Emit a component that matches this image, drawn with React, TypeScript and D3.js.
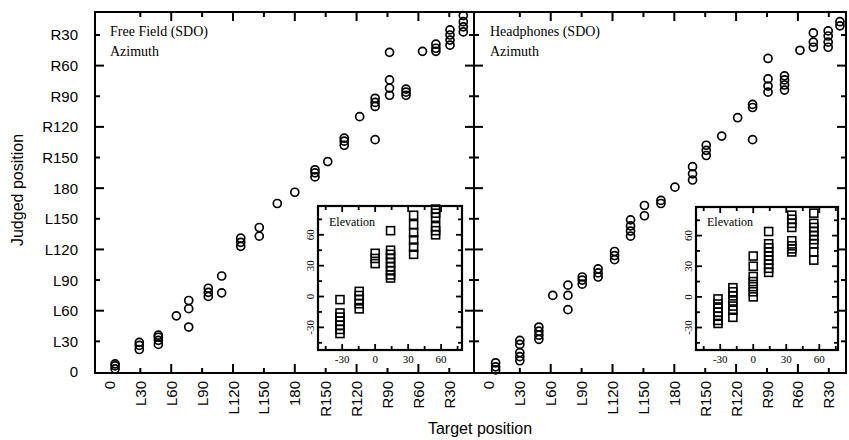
import React from 'react';
import * as d3 from 'd3';

// ---------- tick values / labels ----------
const azTickValues = [0, 30, 60, 90, 120, 150, 180, 210, 240, 270, 300, 330];
const azTickLabels = ['0', 'L30', 'L60', 'L90', 'L120', 'L150', '180', 'R150', 'R120', 'R90', 'R60', 'R30'];
const elTickValues = [-30, 0, 30, 60];
const elTickMinor = [-45, -30, -15, 0, 15, 30, 45, 60, 75];

// ---------- Free field azimuth ----------
const ffAzTargets = [5.5, 29, 47.5, 65, 77, 96, 109, 127.5, 145.5, 163, 180, 199.6, 212, 228, 243, 258, 272, 288, 304, 317, 330.7, 343.6];
const ffAzJudged = [
  [3, 6, 8], [22, 26, 29], [27, 31, 34, 36], [55], [44, 62, 70], [74, 78, 82], [77.5, 94],
  [123, 127, 131], [133, 141.5], [165], [176], [191, 195, 198], [206], [222, 226, 229], [250],
  [227.5, 260, 264, 268], [271, 278, 286, 313], [271, 274, 277], [314], [314, 317, 321],
  [320, 325, 330, 335], [333, 338, 343, 349],
];

// ---------- Headphones azimuth ----------
const hpAzTargets = [6.5, 30, 48.5, 62, 76.7, 90.6, 106, 122, 137.5, 151, 167, 180.6, 197.7, 211, 226, 241.5, 256, 271, 287, 302, 315, 329.4, 340.8];
const hpAzJudged = [
  [2, 5, 9], [11, 15, 19, 27, 31], [32, 36, 40, 44], [75], [61, 75, 85], [86, 90, 93], [93, 97, 101],
  [110, 114, 118], [133, 138, 143, 149], [153, 163], [165, 168], [181], [188, 194, 201], [212, 217, 222],
  [231], [249], [227.5, 259, 262], [274, 280, 287, 307], [276, 281, 286, 290], [315], [318, 323, 332],
  [318, 323, 329, 334], [339, 343],
];

// ---------- Free field elevation (inset) ----------
const ffElTargets = [-32, -14.5, 0, 14, 35, 55];
const ffElJudged = [
  [-3, -16, -20, -24, -28, -32, -36],
  [5, 1, -3, -7, -12],
  [42, 37, 32],
  [64, 45, 41, 37, 33, 29, 25, 21, 18],
  [79, 70, 62, 55, 48, 41],
  [85, 81, 77, 68, 64, 60],
];

// ---------- Headphones elevation (inset) ----------
const hpElTargets = [-32, -18.5, 0, 14, 35, 55];
const hpElJudged = [
  [-2, -7, -11, -15, -19, -23, -26],
  [9, 5, 1, -4, -9, -13, -20],
  [40, 30, 20, 15, 10, 5, 0],
  [64, 52, 48, 44, 40, 36, 32, 28, 24],
  [80, 76, 72, 68, 55, 50, 47, 44],
  [82, 72, 68, 64, 60, 56, 52, 44, 36],
];

const SANS = '"Liberation Sans", Arial, sans-serif';
const SERIF = '"Liberation Serif", "Times New Roman", serif';

const TOP = 12;
const BOTTOM = 373;
const yAz = d3.scaleLinear().domain([-1, 352.5]).range([BOTTOM, TOP]);

type PanelProps = {
  x: d3.ScaleLinear<number, number>;
  targets: number[];
  judged: number[][];
  title: string;
  labelX: number;
};

function AzPanel({ x, targets, judged, title, labelX }: PanelProps) {
  const [x0, x1] = x.range();
  const xt = azTickValues.filter((v) => v > 0 && x(v) > x0 + 2 && x(v) < x1 - 2);
  const yt = azTickValues.filter((v) => v > 0);
  const pts: { t: number; j: number }[] = [];
  targets.forEach((t, i) => judged[i].forEach((j) => pts.push({ t, j })));
  return (
    <g>
      {/* bottom & top ticks */}
      {xt.map((v) => {
        const len = v % 60 === 0 ? 9 : 5;
        return (
          <g key={'xt' + v}>
            <line x1={x(v)} x2={x(v)} y1={BOTTOM} y2={BOTTOM - len} stroke="#000" strokeWidth={2} />
            <line x1={x(v)} x2={x(v)} y1={TOP} y2={TOP + len} stroke="#000" strokeWidth={2} />
          </g>
        );
      })}
      {/* left & right ticks */}
      {yt.map((v) => {
        const len = v % 60 === 0 ? 9 : 5;
        return (
          <g key={'yt' + v}>
            <line x1={x0} x2={x0 + len} y1={yAz(v)} y2={yAz(v)} stroke="#000" strokeWidth={2} />
            <line x1={x1} x2={x1 - len} y1={yAz(v)} y2={yAz(v)} stroke="#000" strokeWidth={2} />
          </g>
        );
      })}
      {/* x tick labels */}
      {azTickValues.map((v, i) => (
        <text
          key={'xl' + v}
          transform={`translate(${x(v)},381) rotate(-90)`}
          textAnchor="end"
          dominantBaseline="central"
          fontFamily={SANS}
          fontSize={15}
        >
          {azTickLabels[i]}
        </text>
      ))}
      {/* points */}
      {pts.map((p, i) => (
        <circle key={'p' + i} cx={x(p.t)} cy={yAz(p.j)} r={4} fill="none" stroke="#000" strokeWidth={1.7} />
      ))}
      <text x={labelX} y={36} fontFamily={SERIF} fontSize={14}>{title}</text>
      <text x={labelX} y={56} fontFamily={SERIF} fontSize={14}>Azimuth</text>
    </g>
  );
}

type InsetProps = {
  x: d3.ScaleLinear<number, number>;
  y: d3.ScaleLinear<number, number>;
  targets: number[];
  judged: number[][];
};

function Inset({ x, y, targets, judged }: InsetProps) {
  const [x0, x1] = x.range();
  const [y0, y1] = y.range(); // y0 bottom, y1 top
  const pts: { t: number; j: number }[] = [];
  targets.forEach((t, i) => judged[i].forEach((j) => pts.push({ t, j })));
  const s = 8;
  return (
    <g>
      <rect x={x0} y={y1} width={x1 - x0} height={y0 - y1} fill="#fff" stroke="none" />
      {elTickMinor.map((v) => {
        const len = v % 30 === 0 ? 6 : 4;
        return (
          <g key={'it' + v}>
            {x(v) > x0 && x(v) < x1 && (
              <>
                <line x1={x(v)} x2={x(v)} y1={y0} y2={y0 - len} stroke="#000" strokeWidth={1.8} />
                <line x1={x(v)} x2={x(v)} y1={y1} y2={y1 + len} stroke="#000" strokeWidth={1.8} />
              </>
            )}
            {y(v) < y0 && y(v) > y1 && (
              <>
                <line x1={x0} x2={x0 + len} y1={y(v)} y2={y(v)} stroke="#000" strokeWidth={1.8} />
                <line x1={x1} x2={x1 - len} y1={y(v)} y2={y(v)} stroke="#000" strokeWidth={1.8} />
              </>
            )}
          </g>
        );
      })}
      {pts.map((p, i) => (
        <rect
          key={'s' + i}
          x={x(p.t) - s / 2}
          y={y(p.j) - s / 2}
          width={s}
          height={s}
          fill="none"
          stroke="#000"
          strokeWidth={1.6}
        />
      ))}
      <rect x={x0} y={y1} width={x1 - x0} height={y0 - y1} fill="none" stroke="#000" strokeWidth={2.2} />
      {elTickValues.map((v) => (
        <text key={'ixl' + v} x={x(v)} y={363} textAnchor="middle" fontFamily={SERIF} fontSize={11}>
          {String(v)}
        </text>
      ))}
      {elTickValues.map((v) => (
        <text
          key={'iyl' + v}
          transform={`translate(${x0 - 4},${y(v)}) rotate(-90)`}
          textAnchor="middle"
          fontFamily={SERIF}
          fontSize={11}
        >
          {String(v)}
        </text>
      ))}
      <text x={x0 + 11} y={226} fontFamily={SERIF} fontSize={12}>Elevation</text>
    </g>
  );
}

export default function App() {
  const xLeft = d3.scaleLinear().domain([-14, 354]).range([95, 474]);
  const xRight = d3.scaleLinear().domain([-14.5, 346.7]).range([474, 846]);
  const inLx = d3.scaleLinear().domain([-52, 79]).range([318, 462]);
  const inLy = d3.scaleLinear().domain([-52, 88]).range([350, 206]);
  const inRx = d3.scaleLinear().domain([-52, 77]).range([696, 838]);
  const inRy = d3.scaleLinear().domain([-52, 88]).range([350, 207]);

  return (
    <svg
      width={849}
      height={440}
      style={{ position: 'absolute', left: 0, top: 0, background: '#fff' }}
    >
      <rect x={0} y={0} width={849} height={440} fill="#fff" />
      <AzPanel x={xLeft} targets={ffAzTargets} judged={ffAzJudged} title="Free Field (SDO)" labelX={110} />
      <AzPanel x={xRight} targets={hpAzTargets} judged={hpAzJudged} title="Headphones (SDO)" labelX={490} />
      {/* frame */}
      <rect x={95} y={TOP} width={846 - 95} height={BOTTOM - TOP} fill="none" stroke="#000" strokeWidth={2} />
      <line x1={474} x2={474} y1={TOP} y2={BOTTOM} stroke="#000" strokeWidth={2} />
      {/* y tick labels */}
      {azTickValues.map((v, i) => (
        <text
          key={'yl' + v}
          x={78}
          y={yAz(v)}
          textAnchor="end"
          dominantBaseline="central"
          fontFamily={SANS}
          fontSize={15}
        >
          {azTickLabels[i]}
        </text>
      ))}
      <Inset x={inLx} y={inLy} targets={ffElTargets} judged={ffElJudged} />
      <Inset x={inRx} y={inRy} targets={hpElTargets} judged={hpElJudged} />
      <text
        transform="translate(23,190) rotate(-90)"
        textAnchor="middle"
        fontFamily={SANS}
        fontSize={16}
      >
        Judged position
      </text>
      <text x={480} y={434} textAnchor="middle" fontFamily={SANS} fontSize={16}>
        Target position
      </text>
    </svg>
  );
}
